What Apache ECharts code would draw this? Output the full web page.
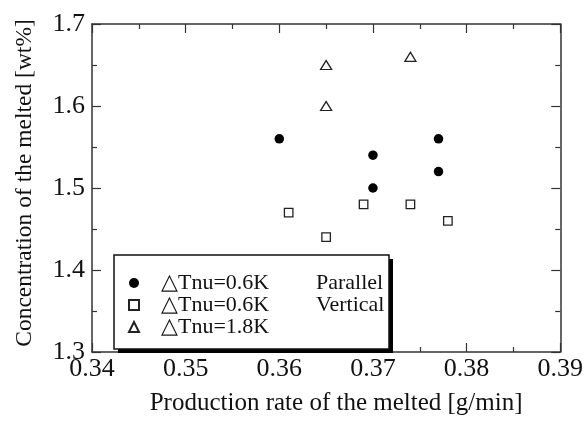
<!DOCTYPE html>
<html>
<head>
<meta charset="utf-8">
<script src="https://cdn.jsdelivr.net/npm/echarts@6/dist/echarts.min.js"></script>
<style>
html,body{margin:0;padding:0;background:#fff;}
#chart{width:586px;height:421px;}
</style>
</head>
<body>
<div id="chart"></div>
<script>
// ---- data ----
const xTicks = [0.34, 0.35, 0.36, 0.37, 0.38, 0.39];
const yTicks = [1.3, 1.4, 1.5, 1.6, 1.7];

const parallel06X = [0.360, 0.370, 0.370, 0.377, 0.377];
const parallel06Y = [1.56, 1.54, 1.50, 1.56, 1.52];

const vertical06X = [0.361, 0.365, 0.369, 0.374, 0.378];
const vertical06Y = [1.47, 1.44, 1.48, 1.48, 1.46];

const tnu18X = [0.365, 0.365, 0.374];
const tnu18Y = [1.65, 1.60, 1.66];

const seriesTnu = ['△Tnu=0.6K', '△Tnu=0.6K', '△Tnu=1.8K'];
const seriesMode = ['Parallel', 'Vertical', ''];
const seriesNames = seriesTnu.map((t, i) => (t + ' ' + seriesMode[i]).trim());

const xTitle = 'Production rate of the melted [g/min]';
const yTitle = 'Concentration of the melted [wt%]';

// ---- build ----
const zip = (xs, ys) => xs.map((x, i) => [x, ys[i]]);
const FONT = '"Liberation Serif", "Times New Roman", serif';
const AX = '#333';
const TXT = '#111';

const baseX = {
  type: 'value', min: xTicks[0], max: xTicks[xTicks.length - 1], interval: 0.01,
  axisLine: { show: true, lineStyle: { color: AX, width: 1.5 } },
  axisTick: { show: true, inside: true, length: 9, lineStyle: { color: AX, width: 1.2 } },
  minorTick: { show: true, splitNumber: 2, length: 5, lineStyle: { color: AX, width: 1.2 } },
  splitLine: { show: false }
};
const baseY = {
  type: 'value', min: yTicks[0], max: yTicks[yTicks.length - 1], interval: 0.1,
  axisLine: { show: true, lineStyle: { color: AX, width: 1.5 } },
  axisTick: { show: true, inside: true, length: 9, lineStyle: { color: AX, width: 1.2 } },
  minorTick: { show: true, splitNumber: 2, length: 5, lineStyle: { color: AX, width: 1.2 } },
  splitLine: { show: false }
};

const chart = echarts.init(document.getElementById('chart'), null, { renderer: 'canvas' });
chart.setOption({
  backgroundColor: '#fff',
  animation: false,
  grid: { left: 92, top: 24, right: 23, bottom: 62.5, containLabel: false },
  xAxis: [
    Object.assign({}, baseX, {
      position: 'bottom',
      axisLabel: { show: true, margin: 4, color: TXT, fontFamily: FONT, fontSize: 26,
        formatter: v => v.toFixed(2) },
      name: xTitle, nameLocation: 'middle', nameGap: 39,
      nameTextStyle: { color: TXT, fontFamily: FONT, fontSize: 25, padding: [0, 0, 0, 20] }
    }),
    Object.assign({}, baseX, { position: 'top', axisLabel: { show: false } })
  ],
  yAxis: [
    Object.assign({}, baseY, {
      position: 'left',
      axisLabel: { show: true, margin: 7, color: TXT, fontFamily: FONT, fontSize: 26,
        formatter: v => v.toFixed(1) },
      name: yTitle, nameLocation: 'middle', nameGap: 55, nameRotate: 90,
      nameTextStyle: { color: TXT, fontFamily: FONT, fontSize: 23.5, padding: [0, 0, 0, 10] }
    }),
    Object.assign({}, baseY, { position: 'right', axisLabel: { show: false } })
  ],
  graphic: [
    { type: 'rect', z: 5, shape: { x: 118, y: 259, width: 275, height: 94 },
      style: { fill: '#000' } },
    { type: 'rect', z: 6, shape: { x: 114, y: 255, width: 275, height: 94 },
      style: { fill: '#fff', stroke: '#111', lineWidth: 1.5 } }
  ],
  legend: {
    z: 10,
    orient: 'vertical', left: 123, top: 267,
    itemWidth: 10, itemHeight: 10, itemGap: 0,
    data: seriesNames,
    formatter: name => {
      const i = seriesNames.indexOf(name);
      return '{a|' + seriesTnu[i] + '}' + (seriesMode[i] ? '{b|' + seriesMode[i] + '}' : '');
    },
    textStyle: {
      rich: {
        a: { fontFamily: FONT, fontSize: 22, color: TXT, width: 155, padding: [0, 0, 0, 17], lineHeight: 22 },
        b: { fontFamily: FONT, fontSize: 22, color: TXT, lineHeight: 22 }
      }
    }
  },
  series: [
    { name: seriesNames[0], type: 'scatter', symbol: 'circle', symbolSize: 9.5,
      itemStyle: { color: '#000', borderColor: '#000', borderWidth: 0, opacity: 1 },
      data: zip(parallel06X, parallel06Y) },
    { name: seriesNames[1], type: 'scatter', symbol: 'rect', symbolSize: 8.5,
      itemStyle: { color: '#fff', borderColor: '#222', borderWidth: 1.3, opacity: 1 },
      data: zip(vertical06X, vertical06Y) },
    { name: seriesNames[2], type: 'scatter', symbol: 'triangle', symbolSize: [11, 9],
      itemStyle: { color: '#fff', borderColor: '#222', borderWidth: 1.3, opacity: 1 },
      data: zip(tnu18X, tnu18Y) }
  ]
});
</script>
</body>
</html>
